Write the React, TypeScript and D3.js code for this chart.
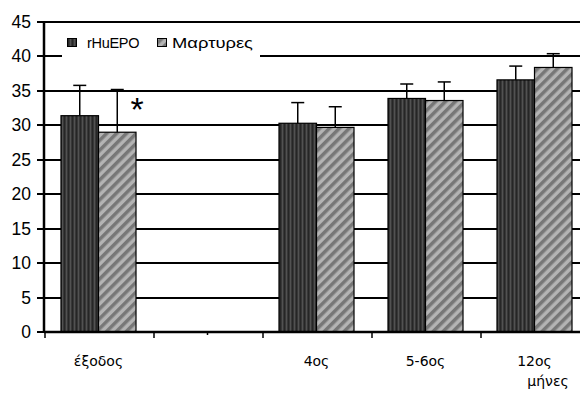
import React from "react";
import * as d3 from "d3";

const categories = ["έξοδος", "", "4ος", "5-6ος", "12ος"];
const seriesNames = ["rHuEPO", "Μαρτυρες"];
const rhuepo = [31.4, null, 30.3, 33.9, 36.6];
const rhuepoErr = [4.4, null, 3.0, 2.1, 2.0];
const controls = [29.0, null, 29.7, 33.6, 38.4];
const controlsErr = [6.2, null, 3.0, 2.7, 2.0];
const yTicks = [0, 5, 10, 15, 20, 25, 30, 35, 40, 45];

const W = 580;
const H = 402;
const axisX = 44;
const bandW = 109;

export default function App() {
  const x = d3
    .scaleBand()
    .domain(categories.map((c, i) => String(i)))
    .range([axisX, axisX + bandW * categories.length])
    .padding(0);
  const x1 = d3
    .scaleBand()
    .domain(seriesNames)
    .range([0, x.bandwidth()])
    .paddingInner(0)
    .paddingOuter(0.453);
  const y = d3.scaleLinear().domain([0, 45]).range([332, 22]);

  const series = [
    { name: seriesNames[0], values: rhuepo, errs: rhuepoErr, fill: "url(#darkPat)" },
    { name: seriesNames[1], values: controls, errs: controlsErr, fill: "url(#lightPat)" },
  ];

  const tickFont = "'Liberation Sans', Arial, sans-serif";
  const labelFont = "'DejaVu Sans', Verdana, sans-serif";

  return (
    <svg width={W} height={H} style={{ position: "absolute", left: 0, top: 0, background: "#fff" }}>
      <defs>
        <pattern id="darkPat" patternUnits="userSpaceOnUse" width="4" height="4">
          <rect width="4" height="4" fill="#383838" />
          <rect x="0" width="1" height="4" fill="#262626" />
          <rect x="2" width="1" height="4" fill="#525252" />
        </pattern>
        <pattern id="lightPat" patternUnits="userSpaceOnUse" width="7" height="7" patternTransform="rotate(45)">
          <rect width="7" height="7" fill="#b4b4b4" />
          <rect width="3.5" height="7" fill="#777" />
        </pattern>
      </defs>

      {/* gridlines */}
      {yTicks.filter((t) => t > 0).map((t) => (
        <line key={t} x1={axisX} x2={W} y1={Math.round(y(t))} y2={Math.round(y(t))} stroke="#000" strokeWidth={1.8} />
      ))}

      {/* legend */}
      <rect x={62} y={29} width={198} height={32} fill="#fff" />
      <rect x={67.5} y={38.5} width={9} height={8} fill="url(#darkPat)" stroke="#000" strokeWidth={1} />
      <text x={87} y={47.5} fontFamily={tickFont} fontSize={14.5} letterSpacing={-0.3}>
        {seriesNames[0]}
      </text>
      <rect x={157.5} y={38.5} width={9} height={8} fill="url(#lightPat)" stroke="#000" strokeWidth={1} />
      <text x={172} y={47.5} fontFamily={tickFont} fontSize={15} textLength={81} lengthAdjust="spacingAndGlyphs">
        {seriesNames[1]}
      </text>

      {/* bars */}
      {series.map((s) =>
        categories.map((c, i) => {
          const v = s.values[i];
          if (v == null) return null;
          const bx = (x(String(i)) as number) + (x1(s.name) as number);
          return (
            <rect
              key={s.name + i}
              x={bx}
              y={y(v)}
              width={x1.bandwidth()}
              height={y(0) - y(v)}
              fill={s.fill}
              stroke="#000"
              strokeWidth={1.2}
            />
          );
        })
      )}

      {/* error bars */}
      {series.map((s) =>
        categories.map((c, i) => {
          const v = s.values[i];
          const e = s.errs[i];
          if (v == null || e == null) return null;
          const cx = (x(String(i)) as number) + (x1(s.name) as number) + x1.bandwidth() / 2;
          return (
            <g key={"e" + s.name + i} stroke="#000" strokeWidth={1.5}>
              <line x1={cx} x2={cx} y1={y(v)} y2={y(v + e)} />
              <line x1={cx - 6.5} x2={cx + 6.5} y1={y(v + e)} y2={y(v + e)} />
            </g>
          );
        })
      )}

      {/* significance mark */}
      <rect x={129} y={94} width={13} height={18} fill="#fff" />
      <text x={137} y={121} textAnchor="middle" fontFamily={tickFont} fontSize={34}>
        *
      </text>

      {/* y axis */}
      <line x1={axisX} x2={axisX} y1={y(45) - 1} y2={y(0) + 1} stroke="#000" strokeWidth={2.5} />
      {yTicks.map((t) => (
        <g key={"yt" + t}>
          <line x1={axisX - 7} x2={axisX} y1={Math.round(y(t))} y2={Math.round(y(t))} stroke="#000" strokeWidth={2} />
          <text
            x={31}
            y={Math.round(y(t))}
            dy="0.36em"
            textAnchor="end"
            fontFamily={tickFont}
            fontSize={17.5}
          >
            {t}
          </text>
        </g>
      ))}

      {/* x axis */}
      <line x1={axisX} x2={W} y1={y(0)} y2={y(0)} stroke="#000" strokeWidth={2.5} />
      {categories.map((c, i) => {
        const bx = x(String(i)) as number;
        return (
          <g key={"xt" + i}>
            <line x1={bx + 1} x2={bx + 1} y1={y(0)} y2={y(0) + 6} stroke="#000" strokeWidth={1.5} />
            {c && (
              <text
                x={bx + x.bandwidth() / 2}
                y={366}
                textAnchor="middle"
                fontFamily={labelFont}
                fontSize={14}
              >
                {c}
              </text>
            )}
          </g>
        );
      })}
      <line
        x1={(x("1") as number) + x.bandwidth() / 2}
        x2={(x("1") as number) + x.bandwidth() / 2}
        y1={y(0)}
        y2={y(0) + 3}
        stroke="#000"
        strokeWidth={1.5}
      />
      <text x={548} y={386} textAnchor="middle" fontFamily={labelFont} fontSize={14}>
        μήνες
      </text>
    </svg>
  );
}
